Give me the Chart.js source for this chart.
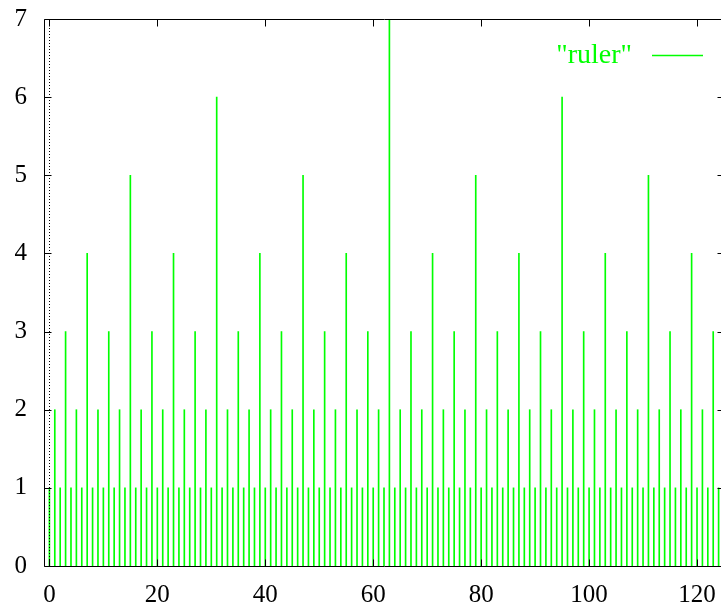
<!DOCTYPE html>
<html>
<head>
<meta charset="utf-8">
<script src="https://cdn.jsdelivr.net/npm/chart.js@4/dist/chart.umd.min.js"></script>
<style>
html,body{margin:0;padding:0;background:#fff;overflow:hidden;}
#wrap{position:relative;width:728px;height:609px;}
</style>
</head>
<body>
<div id="wrap"><canvas id="c"></canvas></div>
<script>
// x positions 0..124
const xValues = [
  0,1,2,3,4,5,6,7,8,9,10,11,12,13,14,15,
  16,17,18,19,20,21,22,23,24,25,26,27,28,29,30,31,
  32,33,34,35,36,37,38,39,40,41,42,43,44,45,46,47,
  48,49,50,51,52,53,54,55,56,57,58,59,60,61,62,63,
  64,65,66,67,68,69,70,71,72,73,74,75,76,77,78,79,
  80,81,82,83,84,85,86,87,88,89,90,91,92,93,94,95,
  96,97,98,99,100,101,102,103,104,105,106,107,108,109,110,111,
  112,113,114,115,116,117,118,119,120,121,122,123,124
];
const rulerValues = [
  1,2,1,3,1,2,1,4,1,2,1,3,1,2,1,5,
  1,2,1,3,1,2,1,4,1,2,1,3,1,2,1,6,
  1,2,1,3,1,2,1,4,1,2,1,3,1,2,1,5,
  1,2,1,3,1,2,1,4,1,2,1,3,1,2,1,7,
  1,2,1,3,1,2,1,4,1,2,1,3,1,2,1,5,
  1,2,1,3,1,2,1,4,1,2,1,3,1,2,1,6,
  1,2,1,3,1,2,1,4,1,2,1,3,1,2,1,5,
  1,2,1,3,1,2,1,4,1,2,1,3,1
];
const xTickValues = [0,20,40,60,80,100,120];
const yTickValues = [0,1,2,3,4,5,6,7];
const seriesLabel = '"ruler"';

const points = xValues.map((x,i)=>({x:x,y:rulerValues[i]}));
const FONT = '"Liberation Serif", "Times New Roman", Times, serif';

const framePlugin = {
  id:'frame',
  afterDatasetsDraw(chart){
    const ctx = chart.ctx, a = chart.chartArea;
    const xs = chart.scales.x, ys = chart.scales.y;
    ctx.save();
    const x0 = Math.round(xs.getPixelForValue(0)) + 0.5;
    ctx.strokeStyle = '#000';
    ctx.lineWidth = 1;
    ctx.setLineDash([1,2]);
    ctx.beginPath(); ctx.moveTo(x0, a.top); ctx.lineTo(x0, a.bottom); ctx.stroke();
    ctx.setLineDash([]);
    const L = Math.round(a.left)+0.5, R = Math.round(a.right)+0.5, T = Math.round(a.top)+0.5, B = Math.round(a.bottom)+0.5;
    ctx.beginPath(); ctx.rect(L, T, R-L, B-T); ctx.stroke();
    const tl = 7;
    ctx.beginPath();
    xTickValues.forEach(v=>{
      const px = Math.round(xs.getPixelForValue(v))+0.5;
      ctx.moveTo(px,B); ctx.lineTo(px,B-tl);
      ctx.moveTo(px,T); ctx.lineTo(px,T+tl);
    });
    yTickValues.forEach(v=>{
      const py = Math.round(ys.getPixelForValue(v))+0.5;
      ctx.moveTo(L,py); ctx.lineTo(L+tl,py);
      ctx.moveTo(R,py); ctx.lineTo(R-tl,py);
    });
    ctx.stroke();
    const ds = chart.data.datasets[0];
    ctx.font = '28px ' + FONT;
    ctx.fillStyle = '#00ff00';
    ctx.textAlign = 'right';
    ctx.textBaseline = 'middle';
    ctx.fillText(ds.label, 632, 56);
    ctx.strokeStyle = '#00ff00';
    ctx.lineWidth = 1.5;
    ctx.beginPath(); ctx.moveTo(652, 55.5); ctx.lineTo(703, 55.5); ctx.stroke();
    ctx.restore();
  }
};

new Chart(document.getElementById('c'), {
  type:'bar',
  data:{datasets:[{
    label: seriesLabel,
    data: points,
    backgroundColor:'#00ff00',
    borderWidth:0,
    barThickness:1,
    grouped:false
  }]},
  options:{
    responsive:true,
    maintainAspectRatio:false,
    animation:false,
    events:[],
    layout:{padding:{top:19,right:4,left:0,bottom:0}},
    plugins:{legend:{display:false},tooltip:{enabled:false},title:{display:false}},
    scales:{
      x:{
        type:'linear', min:-1, max:125, offset:false,
        afterBuildTicks(s){ s.ticks = xTickValues.map(v=>({value:v})); },
        afterFit(s){ s.height = 43; s.paddingLeft = 0; s.paddingRight = 0; },
        grid:{display:false, drawTicks:false},
        border:{display:false},
        ticks:{color:'#000', font:{family:FONT,size:25}, padding:14, maxRotation:0, autoSkip:false}
      },
      y:{
        type:'linear', min:0, max:7,
        afterBuildTicks(s){ s.ticks = yTickValues.map(v=>({value:v})); },
        afterFit(s){ s.width = 44; s.paddingTop = 0; s.paddingBottom = 0; },
        grid:{display:false, drawTicks:false},
        border:{display:false},
        ticks:{color:'#000', font:{family:FONT,size:25}, padding:17, autoSkip:false}
      }
    }
  },
  plugins:[framePlugin]
});
</script>
</body>
</html>
